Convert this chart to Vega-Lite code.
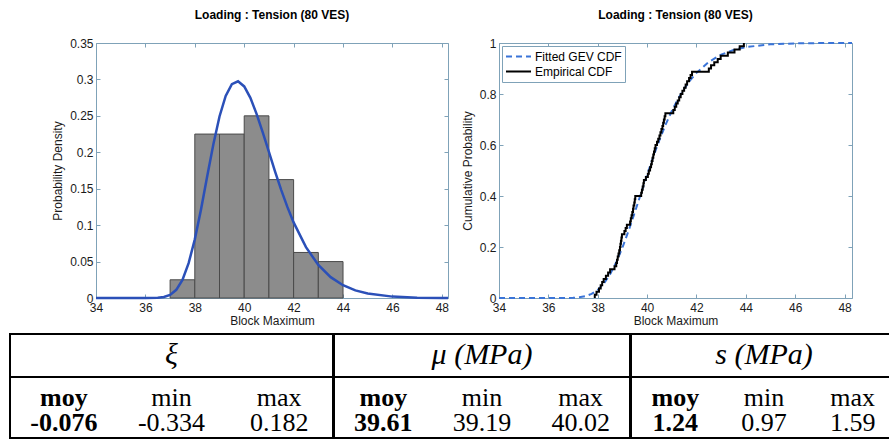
{
  "$schema": "https://vega.github.io/schema/vega-lite/v6.json",
  "padding": {"left": 9, "top": 8, "right": 0, "bottom": 0},
  "background": "white",
  "config": {
    "view": {"stroke": "#7fa2b8", "strokeWidth": 1},
    "title": {"font": "Liberation Sans", "fontSize": 12, "fontWeight": "bold", "anchor": "middle", "offset": 15, "color": "#000000"},
    "axis": {"domain": false, "grid": false, "ticks": true, "tickSize": -4, "tickColor": "#7fa2b8", "labelFont": "Liberation Sans", "labelFontSize": 12, "labelColor": "#1a1a1a", "titleFont": "Liberation Sans", "titleFontSize": 12, "titleFontWeight": "normal", "titleColor": "#1a1a1a", "labelFlush": false, "labelOverlap": false},
    "axisX": {"labelPadding": 8, "titlePadding": 2},
    "axisY": {"labelPadding": 7, "titlePadding": 5}
  },
  "datasets": {
    "bins": [
      {"lo": 37, "hi": 38, "density": 0.025},
      {"lo": 38, "hi": 39, "density": 0.225},
      {"lo": 39, "hi": 40, "density": 0.225},
      {"lo": 40, "hi": 41, "density": 0.25},
      {"lo": 41, "hi": 42, "density": 0.1625},
      {"lo": 42, "hi": 43, "density": 0.0625},
      {"lo": 43, "hi": 44, "density": 0.05}
    ],
    "pdf": [
      {"x": 34, "pdf": 0}, {"x": 35, "pdf": 0}, {"x": 36, "pdf": 0.00001}, {"x": 36.5, "pdf": 0.0003},
      {"x": 36.75, "pdf": 0.0013}, {"x": 37, "pdf": 0.0043}, {"x": 37.25, "pdf": 0.0112}, {"x": 37.5, "pdf": 0.0249},
      {"x": 37.75, "pdf": 0.0478}, {"x": 38, "pdf": 0.0805}, {"x": 38.25, "pdf": 0.1213}, {"x": 38.5, "pdf": 0.1667},
      {"x": 38.75, "pdf": 0.2108}, {"x": 39, "pdf": 0.2491}, {"x": 39.25, "pdf": 0.2774}, {"x": 39.5, "pdf": 0.2935},
      {"x": 39.75, "pdf": 0.2974}, {"x": 40, "pdf": 0.2904}, {"x": 40.25, "pdf": 0.2747}, {"x": 40.5, "pdf": 0.2528},
      {"x": 40.75, "pdf": 0.2274}, {"x": 41, "pdf": 0.2004}, {"x": 41.25, "pdf": 0.1736}, {"x": 41.5, "pdf": 0.1481},
      {"x": 41.75, "pdf": 0.1247}, {"x": 42, "pdf": 0.1038}, {"x": 42.5, "pdf": 0.0698}, {"x": 43, "pdf": 0.0453},
      {"x": 43.5, "pdf": 0.0286}, {"x": 44, "pdf": 0.0176}, {"x": 44.5, "pdf": 0.0105}, {"x": 45, "pdf": 0.0061},
      {"x": 46, "pdf": 0.0019}, {"x": 47, "pdf": 0.0005}, {"x": 48, "pdf": 0.0001}, {"x": 48.25, "pdf": 0.0001}
    ],
    "cdf": [
      {"x": 34, "F": 0, "series": "Fitted GEV CDF"}, {"x": 35, "F": 0, "series": "Fitted GEV CDF"},
      {"x": 36, "F": 0.000001, "series": "Fitted GEV CDF"}, {"x": 36.5, "F": 0.00005, "series": "Fitted GEV CDF"},
      {"x": 36.75, "F": 0.00023, "series": "Fitted GEV CDF"}, {"x": 37, "F": 0.00087, "series": "Fitted GEV CDF"},
      {"x": 37.25, "F": 0.0027, "series": "Fitted GEV CDF"}, {"x": 37.5, "F": 0.007, "series": "Fitted GEV CDF"},
      {"x": 37.75, "F": 0.0159, "series": "Fitted GEV CDF"}, {"x": 38, "F": 0.0318, "series": "Fitted GEV CDF"},
      {"x": 38.25, "F": 0.0568, "series": "Fitted GEV CDF"}, {"x": 38.5, "F": 0.0929, "series": "Fitted GEV CDF"},
      {"x": 38.75, "F": 0.14, "series": "Fitted GEV CDF"}, {"x": 39, "F": 0.1977, "series": "Fitted GEV CDF"},
      {"x": 39.25, "F": 0.2638, "series": "Fitted GEV CDF"}, {"x": 39.5, "F": 0.3354, "series": "Fitted GEV CDF"},
      {"x": 39.75, "F": 0.4095, "series": "Fitted GEV CDF"}, {"x": 40, "F": 0.4832, "series": "Fitted GEV CDF"},
      {"x": 40.25, "F": 0.554, "series": "Fitted GEV CDF"}, {"x": 40.5, "F": 0.62, "series": "Fitted GEV CDF"},
      {"x": 40.75, "F": 0.6801, "series": "Fitted GEV CDF"}, {"x": 41, "F": 0.7336, "series": "Fitted GEV CDF"},
      {"x": 41.25, "F": 0.7803, "series": "Fitted GEV CDF"}, {"x": 41.5, "F": 0.8204, "series": "Fitted GEV CDF"},
      {"x": 41.75, "F": 0.8545, "series": "Fitted GEV CDF"}, {"x": 42, "F": 0.8829, "series": "Fitted GEV CDF"},
      {"x": 42.5, "F": 0.926, "series": "Fitted GEV CDF"}, {"x": 43, "F": 0.9544, "series": "Fitted GEV CDF"},
      {"x": 43.5, "F": 0.9726, "series": "Fitted GEV CDF"}, {"x": 44, "F": 0.984, "series": "Fitted GEV CDF"},
      {"x": 45, "F": 0.9949, "series": "Fitted GEV CDF"}, {"x": 46, "F": 0.99856, "series": "Fitted GEV CDF"},
      {"x": 47, "F": 0.99964, "series": "Fitted GEV CDF"}, {"x": 48, "F": 0.99993, "series": "Fitted GEV CDF"},
      {"x": 48.3, "F": 0.99996, "series": "Fitted GEV CDF"}
    ],
    "ecdf": [
      {"x": 37.88, "F": 0, "series": "Empirical CDF"},
      {"x": 37.88, "F": 0.0125, "series": "Empirical CDF"}, {"x": 37.95, "F": 0.025, "series": "Empirical CDF"},
      {"x": 38.05, "F": 0.0375, "series": "Empirical CDF"}, {"x": 38.12, "F": 0.05, "series": "Empirical CDF"},
      {"x": 38.18, "F": 0.0625, "series": "Empirical CDF"}, {"x": 38.24, "F": 0.075, "series": "Empirical CDF"},
      {"x": 38.33, "F": 0.0875, "series": "Empirical CDF"}, {"x": 38.42, "F": 0.1, "series": "Empirical CDF"},
      {"x": 38.5, "F": 0.1125, "series": "Empirical CDF"}, {"x": 38.68, "F": 0.125, "series": "Empirical CDF"},
      {"x": 38.75, "F": 0.1375, "series": "Empirical CDF"}, {"x": 38.78, "F": 0.15, "series": "Empirical CDF"},
      {"x": 38.81, "F": 0.1625, "series": "Empirical CDF"}, {"x": 38.84, "F": 0.175, "series": "Empirical CDF"},
      {"x": 38.87, "F": 0.1875, "series": "Empirical CDF"}, {"x": 38.9, "F": 0.2, "series": "Empirical CDF"},
      {"x": 38.92, "F": 0.2125, "series": "Empirical CDF"}, {"x": 38.94, "F": 0.225, "series": "Empirical CDF"},
      {"x": 38.96, "F": 0.2375, "series": "Empirical CDF"}, {"x": 38.98, "F": 0.25, "series": "Empirical CDF"},
      {"x": 39.08, "F": 0.2625, "series": "Empirical CDF"}, {"x": 39.13, "F": 0.275, "series": "Empirical CDF"},
      {"x": 39.18, "F": 0.2875, "series": "Empirical CDF"}, {"x": 39.31, "F": 0.3, "series": "Empirical CDF"},
      {"x": 39.34, "F": 0.3125, "series": "Empirical CDF"}, {"x": 39.37, "F": 0.325, "series": "Empirical CDF"},
      {"x": 39.4, "F": 0.3375, "series": "Empirical CDF"}, {"x": 39.43, "F": 0.35, "series": "Empirical CDF"},
      {"x": 39.45, "F": 0.3625, "series": "Empirical CDF"}, {"x": 39.48, "F": 0.375, "series": "Empirical CDF"},
      {"x": 39.5, "F": 0.3875, "series": "Empirical CDF"}, {"x": 39.52, "F": 0.4, "series": "Empirical CDF"},
      {"x": 39.76, "F": 0.4125, "series": "Empirical CDF"}, {"x": 39.79, "F": 0.425, "series": "Empirical CDF"},
      {"x": 39.82, "F": 0.4375, "series": "Empirical CDF"}, {"x": 39.85, "F": 0.45, "series": "Empirical CDF"},
      {"x": 39.87, "F": 0.4625, "series": "Empirical CDF"}, {"x": 39.95, "F": 0.475, "series": "Empirical CDF"},
      {"x": 40.03, "F": 0.4875, "series": "Empirical CDF"}, {"x": 40.07, "F": 0.5, "series": "Empirical CDF"},
      {"x": 40.12, "F": 0.5125, "series": "Empirical CDF"}, {"x": 40.16, "F": 0.525, "series": "Empirical CDF"},
      {"x": 40.19, "F": 0.5375, "series": "Empirical CDF"}, {"x": 40.22, "F": 0.55, "series": "Empirical CDF"},
      {"x": 40.25, "F": 0.5625, "series": "Empirical CDF"}, {"x": 40.28, "F": 0.575, "series": "Empirical CDF"},
      {"x": 40.31, "F": 0.5875, "series": "Empirical CDF"}, {"x": 40.34, "F": 0.6, "series": "Empirical CDF"},
      {"x": 40.4, "F": 0.6125, "series": "Empirical CDF"}, {"x": 40.45, "F": 0.625, "series": "Empirical CDF"},
      {"x": 40.5, "F": 0.6375, "series": "Empirical CDF"}, {"x": 40.54, "F": 0.65, "series": "Empirical CDF"},
      {"x": 40.58, "F": 0.6625, "series": "Empirical CDF"}, {"x": 40.62, "F": 0.675, "series": "Empirical CDF"},
      {"x": 40.65, "F": 0.6875, "series": "Empirical CDF"}, {"x": 40.68, "F": 0.7, "series": "Empirical CDF"},
      {"x": 40.71, "F": 0.7125, "series": "Empirical CDF"}, {"x": 40.74, "F": 0.725, "series": "Empirical CDF"},
      {"x": 41.06, "F": 0.7375, "series": "Empirical CDF"}, {"x": 41.12, "F": 0.75, "series": "Empirical CDF"},
      {"x": 41.18, "F": 0.7625, "series": "Empirical CDF"}, {"x": 41.24, "F": 0.775, "series": "Empirical CDF"},
      {"x": 41.3, "F": 0.7875, "series": "Empirical CDF"}, {"x": 41.36, "F": 0.8, "series": "Empirical CDF"},
      {"x": 41.43, "F": 0.8125, "series": "Empirical CDF"}, {"x": 41.5, "F": 0.825, "series": "Empirical CDF"},
      {"x": 41.56, "F": 0.8375, "series": "Empirical CDF"}, {"x": 41.62, "F": 0.85, "series": "Empirical CDF"},
      {"x": 41.7, "F": 0.8625, "series": "Empirical CDF"}, {"x": 41.76, "F": 0.875, "series": "Empirical CDF"},
      {"x": 41.82, "F": 0.8875, "series": "Empirical CDF"}, {"x": 42.5, "F": 0.9, "series": "Empirical CDF"},
      {"x": 42.59, "F": 0.9125, "series": "Empirical CDF"}, {"x": 42.72, "F": 0.925, "series": "Empirical CDF"},
      {"x": 42.86, "F": 0.9375, "series": "Empirical CDF"}, {"x": 42.98, "F": 0.95, "series": "Empirical CDF"},
      {"x": 43.27, "F": 0.9625, "series": "Empirical CDF"}, {"x": 43.54, "F": 0.975, "series": "Empirical CDF"},
      {"x": 43.75, "F": 0.9875, "series": "Empirical CDF"}, {"x": 43.92, "F": 1, "series": "Empirical CDF"}
    ],
    "heads": [
      {"group": "xi", "label": "ξ"},
      {"group": "mu", "label": "μ (MPa)"},
      {"group": "s", "label": "s (MPa)"}
    ],
    "cells": [
      {"group": "xi", "stat": "moy", "row": "stat", "label": "moy"},
      {"group": "xi", "stat": "min", "row": "stat", "label": "min"},
      {"group": "xi", "stat": "max", "row": "stat", "label": "max"},
      {"group": "xi", "stat": "moy", "row": "val", "label": "-0.076"},
      {"group": "xi", "stat": "min", "row": "val", "label": "-0.334"},
      {"group": "xi", "stat": "max", "row": "val", "label": "0.182"},
      {"group": "mu", "stat": "moy", "row": "stat", "label": "moy"},
      {"group": "mu", "stat": "min", "row": "stat", "label": "min"},
      {"group": "mu", "stat": "max", "row": "stat", "label": "max"},
      {"group": "mu", "stat": "moy", "row": "val", "label": "39.61"},
      {"group": "mu", "stat": "min", "row": "val", "label": "39.19"},
      {"group": "mu", "stat": "max", "row": "val", "label": "40.02"},
      {"group": "s", "stat": "moy", "row": "stat", "label": "moy"},
      {"group": "s", "stat": "min", "row": "stat", "label": "min"},
      {"group": "s", "stat": "max", "row": "stat", "label": "max"},
      {"group": "s", "stat": "moy", "row": "val", "label": "1.24"},
      {"group": "s", "stat": "min", "row": "val", "label": "0.97"},
      {"group": "s", "stat": "max", "row": "val", "label": "1.59"}
    ]
  },
  "spacing": 6,
  "resolve": {"scale": {"color": "independent", "strokeDash": "independent"}, "legend": {"color": "independent", "strokeDash": "independent"}},
  "vconcat": [
    {
      "bounds": "flush",
      "spacing": 51,
      "resolve": {"scale": {"color": "independent", "strokeDash": "independent"}, "legend": {"color": "independent", "strokeDash": "independent"}},
      "hconcat": [
        {
          "width": 35, "height": 255,
          "view": {"stroke": null},
          "data": {"values": [{"k": 1}]},
          "mark": {"type": "text", "text": ""},
          "encoding": {}
        },
        {
          "width": 352, "height": 255,
          "title": "Loading : Tension (80 VES)",
          "layer": [
            {
              "data": {"name": "bins"},
              "mark": {"type": "rect", "fill": "#8c8c8c", "stroke": "#4a4a4a", "strokeWidth": 1},
              "encoding": {
                "x": {"field": "lo", "type": "quantitative", "scale": {"domain": [34, 48.25], "nice": false, "zero": false},
                      "axis": {"orient": "bottom", "title": "Block Maximum", "values": [34, 36, 38, 40, 42, 44, 46, 48]}},
                "x2": {"field": "hi"},
                "y": {"field": "density", "type": "quantitative", "scale": {"domain": [0, 0.35], "nice": false},
                      "axis": {"orient": "left", "title": "Probability Density", "values": [0, 0.05, 0.1, 0.15, 0.2, 0.25, 0.3, 0.35], "format": "~g"}},
                "y2": {"datum": 0}
              }
            },
            {
              "data": {"name": "pdf"},
              "mark": {"type": "line", "color": "#2b50b8", "strokeWidth": 2.5},
              "encoding": {
                "x": {"field": "x", "type": "quantitative",
                      "axis": {"orient": "top", "labels": false, "title": null, "values": [34, 36, 38, 40, 42, 44, 46, 48]}},
                "y": {"field": "pdf", "type": "quantitative",
                      "axis": {"orient": "right", "labels": false, "title": null, "values": [0, 0.05, 0.1, 0.15, 0.2, 0.25, 0.3, 0.35]}}
              }
            }
          ],
          "resolve": {"axis": {"x": "independent", "y": "independent"}}
        },
        {
          "width": 353, "height": 255,
          "title": "Loading : Tension (80 VES)",
          "layer": [
            {
              "data": {"name": "cdf"},
              "mark": {"type": "line", "strokeWidth": 2},
              "encoding": {
                "x": {"field": "x", "type": "quantitative", "scale": {"domain": [34, 48.3], "nice": false, "zero": false},
                      "axis": {"orient": "bottom", "title": "Block Maximum", "values": [34, 36, 38, 40, 42, 44, 46, 48]}},
                "y": {"field": "F", "type": "quantitative", "scale": {"domain": [0, 1], "nice": false},
                      "axis": {"orient": "left", "title": "Cumulative Probability", "values": [0, 0.2, 0.4, 0.6, 0.8, 1], "format": "~g"}},
                "color": {"field": "series", "type": "nominal",
                          "scale": {"domain": ["Fitted GEV CDF", "Empirical CDF"], "range": ["#3a74d8", "#000000"]},
                          "legend": {"title": null, "orient": "none", "legendX": 3, "legendY": 3, "symbolType": "stroke", "symbolSize": 625, "symbolStrokeWidth": 2, "labelFont": "Liberation Sans", "labelFontSize": 12, "labelColor": "#000000", "labelOffset": 3, "rowPadding": 0, "clipHeight": 15, "padding": 3, "strokeColor": "#7fa2b8", "fillColor": "#ffffff"}},
                "strokeDash": {"field": "series", "type": "nominal",
                               "scale": {"domain": ["Fitted GEV CDF", "Empirical CDF"], "range": [[6, 4], [1, 0]]},
                               "legend": {"title": null, "orient": "none", "legendX": 3, "legendY": 3, "symbolType": "stroke", "symbolSize": 625, "symbolStrokeWidth": 2, "labelFont": "Liberation Sans", "labelFontSize": 12, "labelColor": "#000000", "labelOffset": 3, "rowPadding": 0, "clipHeight": 15, "padding": 3, "strokeColor": "#7fa2b8", "fillColor": "#ffffff"}}
              }
            },
            {
              "data": {"name": "ecdf"},
              "mark": {"type": "line", "interpolate": "step-after", "strokeWidth": 2},
              "encoding": {
                "x": {"field": "x", "type": "quantitative",
                      "axis": {"orient": "top", "labels": false, "title": null, "values": [34, 36, 38, 40, 42, 44, 46, 48]}},
                "y": {"field": "F", "type": "quantitative",
                      "axis": {"orient": "right", "labels": false, "title": null, "values": [0, 0.2, 0.4, 0.6, 0.8, 1]}},
                "order": {"field": "F", "type": "quantitative"},
                "color": {"field": "series", "type": "nominal"},
                "strokeDash": {"field": "series", "type": "nominal"}
              }
            }
          ],
          "resolve": {"axis": {"x": "independent", "y": "independent"}}
        }
      ]
    },
    {
      "spacing": -2,
      "hconcat": [
        {
          "bounds": "flush",
          "spacing": 0,
          "vconcat": [
            {
              "width": 323, "height": 43,
              "view": {"stroke": "#000000", "strokeWidth": 2},
              "data": {"name": "heads"},
              "transform": [{"filter": "datum.group == 'xi'"}],
              "mark": {"type": "text", "font": "Liberation Serif", "fontStyle": "italic", "fontSize": 30, "baseline": "alphabetic", "dy": 8, "color": "#000000"},
              "encoding": {"text": {"field": "label"}}
            },
            {
              "width": 323, "height": 61,
              "view": {"stroke": "#000000", "strokeWidth": 2},
              "data": {"name": "cells"},
              "transform": [{"filter": "datum.group == 'xi'"}],
              "encoding": {
                "x": {"field": "stat", "type": "nominal", "scale": {"domain": ["moy", "min", "max"]}, "axis": null},
                "y": {"field": "row", "type": "nominal", "scale": {"domain": ["stat", "val"], "padding": 0.72}, "axis": null},
                "text": {"field": "label"}
              },
              "layer": [
                {"transform": [{"filter": "datum.stat == 'moy'"}], "mark": {"type": "text", "font": "Liberation Serif", "fontWeight": "bold", "fontSize": 26, "baseline": "alphabetic", "dy": 11, "color": "#000000"}},
                {"transform": [{"filter": "datum.stat != 'moy'"}], "mark": {"type": "text", "font": "Liberation Serif", "fontSize": 26, "baseline": "alphabetic", "dy": 11, "color": "#000000"}}
              ]
            }
          ]
        },
        {
          "bounds": "flush",
          "spacing": 0,
          "vconcat": [
            {
              "width": 296, "height": 43,
              "view": {"stroke": "#000000", "strokeWidth": 2},
              "data": {"name": "heads"},
              "transform": [{"filter": "datum.group == 'mu'"}],
              "mark": {"type": "text", "font": "Liberation Serif", "fontStyle": "italic", "fontSize": 30, "baseline": "alphabetic", "dy": 8, "color": "#000000"},
              "encoding": {"text": {"field": "label"}}
            },
            {
              "width": 296, "height": 61,
              "view": {"stroke": "#000000", "strokeWidth": 2},
              "data": {"name": "cells"},
              "transform": [{"filter": "datum.group == 'mu'"}],
              "encoding": {
                "x": {"field": "stat", "type": "nominal", "scale": {"domain": ["moy", "min", "max"]}, "axis": null},
                "y": {"field": "row", "type": "nominal", "scale": {"domain": ["stat", "val"], "padding": 0.72}, "axis": null},
                "text": {"field": "label"}
              },
              "layer": [
                {"transform": [{"filter": "datum.stat == 'moy'"}], "mark": {"type": "text", "font": "Liberation Serif", "fontWeight": "bold", "fontSize": 26, "baseline": "alphabetic", "dy": 11, "color": "#000000"}},
                {"transform": [{"filter": "datum.stat != 'moy'"}], "mark": {"type": "text", "font": "Liberation Serif", "fontSize": 26, "baseline": "alphabetic", "dy": 11, "color": "#000000"}}
              ]
            }
          ]
        },
        {
          "bounds": "flush",
          "spacing": 0,
          "vconcat": [
            {
              "width": 266, "height": 43,
              "view": {"stroke": "#000000", "strokeWidth": 2},
              "data": {"name": "heads"},
              "transform": [{"filter": "datum.group == 's'"}],
              "mark": {"type": "text", "font": "Liberation Serif", "fontStyle": "italic", "fontSize": 30, "baseline": "alphabetic", "dy": 8, "color": "#000000"},
              "encoding": {"text": {"field": "label"}}
            },
            {
              "width": 266, "height": 61,
              "view": {"stroke": "#000000", "strokeWidth": 2},
              "data": {"name": "cells"},
              "transform": [{"filter": "datum.group == 's'"}],
              "encoding": {
                "x": {"field": "stat", "type": "nominal", "scale": {"domain": ["moy", "min", "max"]}, "axis": null},
                "y": {"field": "row", "type": "nominal", "scale": {"domain": ["stat", "val"], "padding": 0.72}, "axis": null},
                "text": {"field": "label"}
              },
              "layer": [
                {"transform": [{"filter": "datum.stat == 'moy'"}], "mark": {"type": "text", "font": "Liberation Serif", "fontWeight": "bold", "fontSize": 26, "baseline": "alphabetic", "dy": 11, "color": "#000000"}},
                {"transform": [{"filter": "datum.stat != 'moy'"}], "mark": {"type": "text", "font": "Liberation Serif", "fontSize": 26, "baseline": "alphabetic", "dy": 11, "color": "#000000"}}
              ]
            }
          ]
        }
      ]
    }
  ]
}
